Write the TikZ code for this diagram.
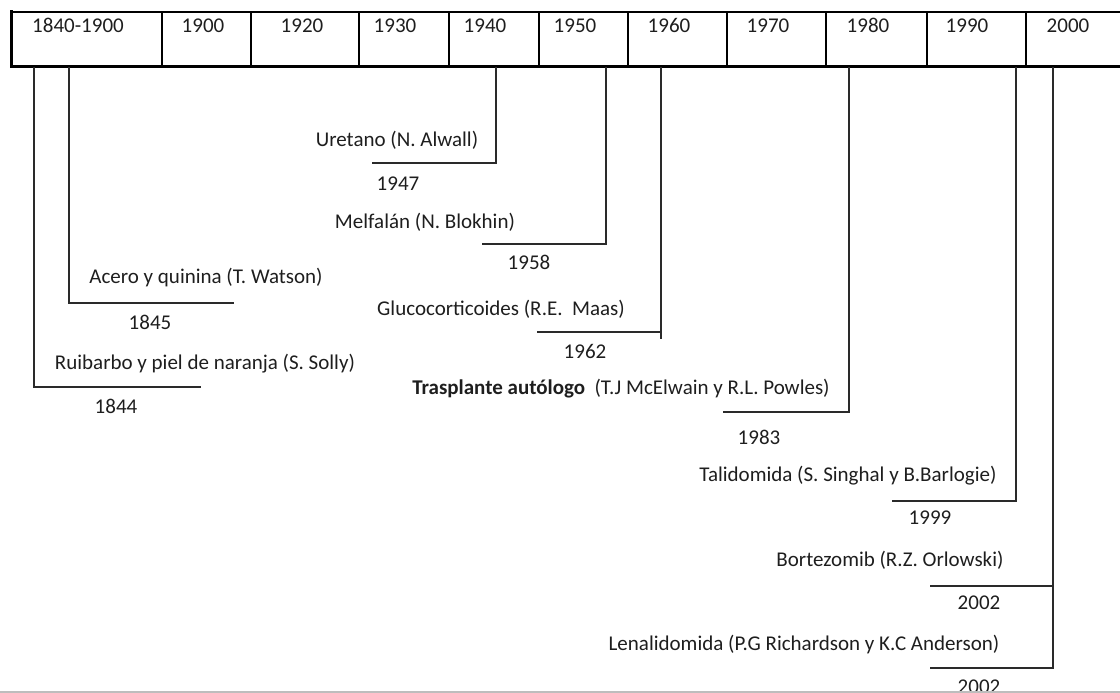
\documentclass[tikz,border=0pt]{standalone}
\usepackage{fontspec}
\setmainfont{Carlito}
\definecolor{ink}{HTML}{1E1E1E}
\definecolor{rule}{HTML}{2A2A2A}
\definecolor{edge}{HTML}{BDBDBD}
\begin{document}
\begin{tikzpicture}[x=1pt,y=-1pt,
  lbl/.style={inner sep=0pt,anchor=base,text=ink,font=\fontsize{21}{25}\selectfont},
  yr/.style={lbl},
  conn/.style={draw=rule,line width=1.5pt},
  thin/.style={draw=black,line width=1.3pt},
  thick/.style={draw=black,line width=3pt}]
\useasboundingbox (0,0) rectangle (1120,693);
% header bar
\coordinate (bl) at (11,67);
\coordinate (tl) at (11,12);
\coordinate (tr) at (1120,12);
\coordinate (br) at (1120,67);
\draw[thin] (tl) -- (tr);
\foreach \d in {162,251,359,449,539,628,727,826,927,1026}{
  \draw[thin] (\d,12) -- (\d,67);
}
\draw[thick,line cap=rect] (tl) -- (bl) -- (br);
% header labels
\node[lbl] (h1) at (78,32.5) {1840-1900};
\node[lbl] (h2) at (203,32.5) {1900};
\node[lbl] (h3) at (302,32.5) {1920};
\node[lbl] (h4) at (395,32.5) {1930};
\node[lbl] (h5) at (485,32.5) {1940};
\node[lbl] (h6) at (575,32.5) {1950};
\node[lbl] (h7) at (669,32.5) {1960};
\node[lbl] (h8) at (768,32.5) {1970};
\node[lbl] (h9) at (868,32.5) {1980};
\node[lbl] (h10) at (967,32.5) {1990};
\node[lbl] (h11) at (1068,32.5) {2000};
% events
\node[lbl] (ruib) at (205,369.5) {Ruibarbo y piel de naranja (S. Solly)};
\node[yr] (y1844) at (116,413.5) {1844};
\coordinate (a1) at (34,67); \coordinate (b1) at (34,387); \coordinate (c1) at (201,387);
\draw[conn] (a1) -- (b1) -- (c1);

\node[lbl] (acero) at (206,283.5) {Acero y quinina (T. Watson)};
\node[yr] (y1845) at (150,329.5) {1845};
\coordinate (a2) at (69,67); \coordinate (b2) at (69,303); \coordinate (c2) at (234,303);
\draw[conn] (a2) -- (b2) -- (c2);

\node[lbl] (uret) at (397,146.5) {Uretano (N. Alwall)};
\node[yr] (y1947) at (398,190.5) {1947};
\coordinate (a3) at (496,67); \coordinate (b3) at (496,163); \coordinate (c3) at (372,163);
\draw[conn] (a3) -- (b3) -- (c3);

\node[lbl] (melf) at (425,228.5) {Melfalán (N. Blokhin)};
\node[yr] (y1958) at (529,269.5) {1958};
\coordinate (a4) at (606,67); \coordinate (b4) at (606,244); \coordinate (c4) at (482,244);
\draw[conn] (a4) -- (b4) -- (c4);

\node[lbl] (gluc) at (501,315.5) {Glucocorticoides (R.E.\ \ Maas)};
\node[yr] (y1962) at (585,358.5) {1962};
\coordinate (a5) at (661,67); \coordinate (b5) at (661,339); \coordinate (m5) at (661,332); \coordinate (c5) at (537,332);
\draw[conn] (a5) -- (b5);
\draw[conn] (m5) -- (c5);

\node[lbl] (tras) at (621,394.5) {\textbf{Trasplante autólogo}\ \ (T.J McElwain y R.L. Powles)};
\node[yr] (y1983) at (759,444.5) {1983};
\coordinate (a6) at (849,67); \coordinate (b6) at (849,412); \coordinate (c6) at (723,412);
\draw[conn] (a6) -- (b6) -- (c6);

\node[lbl] (tali) at (848,481.5) {Talidomida (S. Singhal y B.Barlogie)};
\node[yr] (y1999) at (930,524.5) {1999};
\coordinate (a7) at (1016,67); \coordinate (b7) at (1016,501); \coordinate (c7) at (892,501);
\draw[conn] (a7) -- (b7) -- (c7);

\node[lbl] (bort) at (890,566.5) {Bortezomib (R.Z. Orlowski)};
\node[yr] (y2002a) at (979,609.5) {2002};
\coordinate (a8) at (1053,67); \coordinate (m8) at (1053,586); \coordinate (c8) at (930,586);
\coordinate (b9) at (1053,668); \coordinate (c9) at (930,668);
\draw[conn] (a8) -- (b9) -- (c9);
\draw[conn] (m8) -- (c8);

\node[lbl] (lena) at (804,650.5) {Lenalidomida (P.G Richardson y K.C Anderson)};
\node[yr] (y2002b) at (979,693) {2002};
% bottom edge
\coordinate (g1) at (0,692); \coordinate (g2) at (1120,692);
\fill[white] (0,691) rectangle (1120,693);
\draw[edge,line width=2pt] (g1) -- (g2);
\end{tikzpicture}
\end{document}
